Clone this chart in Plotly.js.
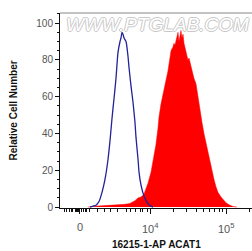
<!DOCTYPE html>
<html>
<head>
<meta charset="utf-8">
<script src="https://cdn.plot.ly/plotly-3.0.1.min.js"></script>
<style>html,body{margin:0;padding:0;background:#fff;}#chart{width:252px;height:251px;}</style>
</head>
<body>
<div id="chart"></div>
<script>
// x values in display (biexponential) decade units: 4 = 10^4, 5 = 10^5
const blueX = [3.204,3.243,3.283,3.322,3.362,3.401,3.441,3.467,3.493,3.520,3.546,3.572,3.599,3.612,3.625,3.638,3.651,3.664,3.678,3.704,3.717,3.743,3.770,3.796,3.809,3.836,3.849,3.875,3.914,3.954,3.993,4.033];
const blueY = [0,0.5,1,3,8,15,26,36,48,59,70,84,90,92,95,94,92,91,90,82,76,66,57,46,38,26,19,12,6,2.5,0.8,0];
const redX = [3.178,3.270,3.401,3.533,3.664,3.730,3.796,3.836,3.875,3.914,3.941,3.967,4.007,4.033,4.059,4.072,4.099,4.112,4.138,4.164,4.178,4.204,4.230,4.243,4.257,4.270,4.296,4.309,4.322,4.336,4.349,4.362,4.375,4.388,4.401,4.414,4.428,4.441,4.454,4.467,4.493,4.507,4.533,4.559,4.572,4.599,4.625,4.638,4.664,4.678,4.704,4.730,4.743,4.770,4.796,4.809,4.836,4.862,4.888,4.928,4.967,4.993,5.033,5.086,5.138];
const redY = [0,0.5,0.8,1,1.5,2,3.5,5,5.5,7,10,13,19,25,30,34,43,49,56,62,65,69,74,78,82,85,87,89,88,91,92,95,90,93,96,92,94,89,87,85,80,81,76,72,70,67,60,55,49,46,40,35,31,27,22,19,15,11,8,5.5,3.5,2.4,1.2,0.3,0];
const xTickVals = [3.072, 4, 5];
const xTickText = ['0', '10<sup>4</sup>', '10<sup>5</sup>'];
const xMinorLow = [2.862,2.901,2.928,2.954,2.980,3.007,3.020,3.033,3.046,3.059,3.086,3.112,3.138,3.164,3.191,3.309,3.401,3.480,3.572,3.678,3.743,3.809,3.862,3.901,3.954];
const xMinorLogMult = [2,3,4,5,6,7,8,9];
const yTickVals = [0,20,40,60,80,100];
const xTitle = '16215-1-AP ACAT1';
const yTitle = 'Relative Cell Number';
const watermark = 'WWW.PTGLAB.COM';

const minorVals = xMinorLow.slice();
xMinorLogMult.forEach(m => minorVals.push(4 + Math.log10(m)));
minorVals.push(5 + Math.log10(2));

const XRANGE = [2.809, 5.336];
const FONT = 'Liberation Sans, Arial, sans-serif';
const traces = [
  {x: redX, y: redY, type: 'scatter', mode: 'lines', fill: 'tozeroy',
   fillcolor: '#ff0000', line: {color: '#ff0000', width: 0.5}, hoverinfo: 'skip'},
  {x: blueX, y: blueY, type: 'scatter', mode: 'lines',
   line: {color: '#22229a', width: 1.3, shape: 'spline', smoothing: 0.5}, hoverinfo: 'skip'},
  {x: [XRANGE[0]], y: [-10], xaxis: 'x2', yaxis: 'y', type: 'scatter', mode: 'markers',
   marker: {opacity: 0}, hoverinfo: 'skip'}
];
const tickLabelAnnots = xTickVals.map((v, i) => ({
  text: xTickText[i], xref: 'x', yref: 'paper', x: v, y: -0.056,
  showarrow: false, xanchor: 'center', yanchor: 'top',
  font: {family: FONT, size: 11, color: '#555'}
}));
const layout = {
  width: 252, height: 251,
  margin: {l: 60, r: 0, t: 13, b: 43},
  paper_bgcolor: '#fff', plot_bgcolor: '#fff',
  showlegend: false,
  font: {family: FONT, size: 10, color: '#444'},
  xaxis: {
    range: XRANGE, showgrid: false, zeroline: false,
    showline: true, linecolor: '#111', linewidth: 1,
    tickmode: 'array', tickvals: xTickVals, showticklabels: false,
    ticks: 'outside', ticklen: 5, tickcolor: '#111', tickwidth: 1,
    fixedrange: true
  },
  xaxis2: {
    overlaying: 'x', anchor: 'y', side: 'bottom', range: XRANGE,
    showgrid: false, zeroline: false, showline: false,
    tickmode: 'array', tickvals: minorVals, showticklabels: false,
    ticks: 'outside', ticklen: 3, tickcolor: '#111', tickwidth: 1,
    fixedrange: true
  },
  yaxis: {
    range: [-0.5, 105.5], showgrid: false, zeroline: false,
    showline: true, linecolor: '#111', linewidth: 1,
    tickmode: 'array', tickvals: yTickVals,
    ticks: 'outside', ticklen: 4, tickcolor: '#111', tickwidth: 1,
    tickfont: {family: FONT, size: 10, color: '#555'},
    minor: {dtick: 5, tick0: 0, ticks: 'outside', ticklen: 2.5, tickcolor: '#111', tickwidth: 1},
    fixedrange: true
  },
  shapes: [
    {type: 'line', xref: 'paper', yref: 'paper', x0: 0, x1: 1, y0: 1, y1: 1,
     line: {color: '#888', width: 1}}
  ],
  annotations: [
    {text: watermark, xref: 'paper', yref: 'paper', x: 0.51, y: 0.94, showarrow: false,
     xanchor: 'center', yanchor: 'middle',
     font: {family: FONT, size: 19, color: '#ffffff', style: 'italic',
            shadow: '1px 0 0 #c8c8c8, -1px 0 0 #c8c8c8, 0 1px 0 #c8c8c8, 0 -1px 0 #c8c8c8'}},
    {text: '<b>' + xTitle + '</b>', xref: 'paper', yref: 'paper', x: 0.5, y: -0.185,
     showarrow: false, xanchor: 'center', yanchor: 'middle',
     font: {family: FONT, size: 10, color: '#111'}},
    {text: '<b>' + yTitle + '</b>', xref: 'paper', yref: 'paper', x: -0.24, y: 0.5,
     showarrow: false, xanchor: 'center', yanchor: 'middle', textangle: -90,
     font: {family: FONT, size: 10, color: '#111'}}
  ].concat(tickLabelAnnots)
};
Plotly.newPlot('chart', traces, layout, {staticPlot: true, displayModeBar: false});
</script>
</body>
</html>
